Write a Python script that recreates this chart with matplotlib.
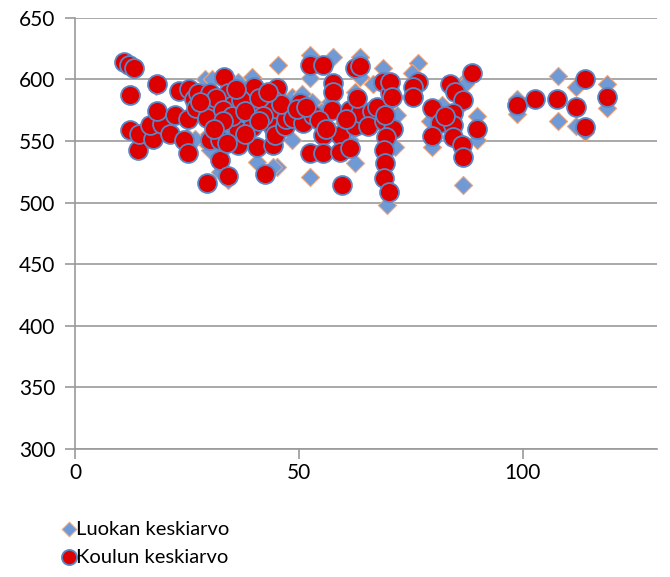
import numpy as np
import matplotlib.pyplot as plt

plt.rcParams['font.family'] = ['Lato', 'DejaVu Sans']
plt.rcParams['font.size'] = 15

# class means (diamonds)
luokka_x = [29, 30.6, 35.3, 36.4, 39.5, 45.3, 52.5, 57.6, 63.6, 76.6, 52.5, 63.6, 68.8,
            45, 52.5, 69.6, 86.6, 48.4, 62.5, 62.5, 79.7, 89.7, 89.7, 86.6, 48.4, 50.7,
            33, 40.6, 44.2, 32.4, 28.6, 25, 32.8, 30.1, 34.2,
            98.7, 98.7, 107.8, 107.8, 111.8, 111.8, 113.8, 118.8, 118.8,
            66.5, 52.9, 55.1, 61.4, 65.8, 68.8, 75.2, 87, 79.2, 82, 71.9, 71.4, 26.8,
            11.5, 12.5, 12.5, 14, 18, 17, 22, 25, 24,
            33, 37, 41, 44, 51, 57, 60, 64, 70, 85, 84]
luokka_y = [600, 600, 597, 598, 602, 612, 620, 618, 618, 613, 601, 602, 609,
            529, 521, 498, 514, 551, 532, 590, 545, 570, 551, 597, 586, 588,
            565, 533, 529, 525, 551, 553, 559, 543, 518,
            572, 584, 603, 566, 594, 562, 557, 596, 577,
            596, 582, 574, 551, 562, 563, 605, 596, 566, 579, 571, 545, 552,
            613, 588, 558, 544, 595, 563, 571, 567, 551,
            585, 575, 580, 570, 575, 582, 565, 575, 580, 575, 560]

# school means (circles)
koulu_x = [11.0, 12.0, 13.2, 12.3, 12.3, 14.1, 18.3, 14.3, 17.4, 16.7, 19.4, 18.3, 21.2,
           24.3, 25.2, 23.2, 25.4, 22.3, 25.2, 26.5, 27.0,
           27.5, 30.1, 33.3, 34.2, 30.1, 35.3, 39.0, 40.0, 39.5, 45.0, 44.2, 44.2, 44.2,
           29.5, 30.1, 32.4, 32.4, 34.2, 29.5, 36.4, 36.4, 39.5, 40.6, 42.4, 44.2, 44.6, 46.9,
           31.5, 33, 35, 37, 38, 41, 42, 36, 41, 38, 33, 28, 47, 46, 31, 34, 43,
           52.5, 55.4, 62.5, 63.6, 57.6, 57.6, 57.4, 48.7, 50.2, 50.9, 53.1, 55.4, 52.5,
           55.4, 59.2, 59.2, 61.4, 62.5, 61.4, 63.6, 66.3, 59.6, 68.8, 70.3,
           49.5, 51.5, 54.5, 56, 60.5, 63, 65.5, 67.5, 69, 71,
           69.2, 69.4, 69.0, 69.2, 69.0, 70.0,
           70.3, 70.8, 76.6, 75.4, 75.4, 79.7, 81.5, 79.7, 83.7, 84.8, 86.6, 84.4, 84.4,
           84.4, 86.4, 86.6, 88.6, 89.7, 82.5,
           98.7, 102.7, 107.6, 111.8, 113.8, 113.8, 118.8]
koulu_y = [614, 612, 609, 587, 559, 543, 596, 556, 552, 563, 564, 574, 556,
           551, 540, 591, 592, 571, 568, 584, 577,
           589, 589, 602, 589, 578, 579, 586, 594, 579, 593, 583, 575, 561,
           569, 551, 551, 535, 522, 516, 547, 559, 561, 545, 523, 547, 555, 562,
           585, 575, 570, 583, 574, 585, 570, 592, 566, 556, 566, 582, 568, 580, 560, 548, 590,
           612, 612, 609, 611, 597, 590, 575, 569, 581, 565, 571, 555, 540,
           540, 555, 541, 575, 562, 544, 573, 574, 514, 598, 589,
           576, 578, 567, 560, 568, 585, 562, 578, 566, 560,
           571, 553, 543, 532, 520, 509,
           598, 586, 598, 594, 586, 577, 565, 554, 596, 590, 583, 573, 563,
           553, 547, 537, 605, 560, 570,
           579, 584, 584, 578, 600, 561, 586]

fig = plt.figure(figsize=(6.7, 5.77), dpi=100)
ax = fig.add_axes([0.112, 0.222, 0.869, 0.747])

ax.scatter(luokka_x, luokka_y, marker='D', s=85, color='#6F9AD6',
           edgecolors='#EFA57A', linewidths=0.8, label='Luokan keskiarvo', zorder=3)
ax.scatter(koulu_x, koulu_y, marker='o', s=185, color='#DD0000',
           edgecolors='#5B86C6', linewidths=1.3, label='Koulun keskiarvo', zorder=4)

ax.set_xlim(0, 130)
ax.set_ylim(300, 650)
ax.set_xticks([0, 50, 100])
ax.set_yticks(np.arange(300, 651, 50))
ax.yaxis.grid(True, color='#9a9a9a', linewidth=1.2)
ax.set_axisbelow(True)
for s in ['top', 'right']:
    ax.spines[s].set_visible(False)
for s in ['left', 'bottom']:
    ax.spines[s].set_color('#9a9a9a')
    ax.spines[s].set_linewidth(1.2)
ax.tick_params(axis='y', length=7, color='#9a9a9a', width=1.2, pad=7)
ax.tick_params(axis='x', length=7, color='#9a9a9a', width=1.2, pad=3)

leg = fig.legend(loc='upper left', bbox_to_anchor=(0.076, 0.112), frameon=False,
                 handletextpad=-0.15, labelspacing=0.55, borderaxespad=0,
                 handlelength=1.0, fontsize=14.5, markerscale=0.8)

plt.savefig('out.png', dpi=100)
